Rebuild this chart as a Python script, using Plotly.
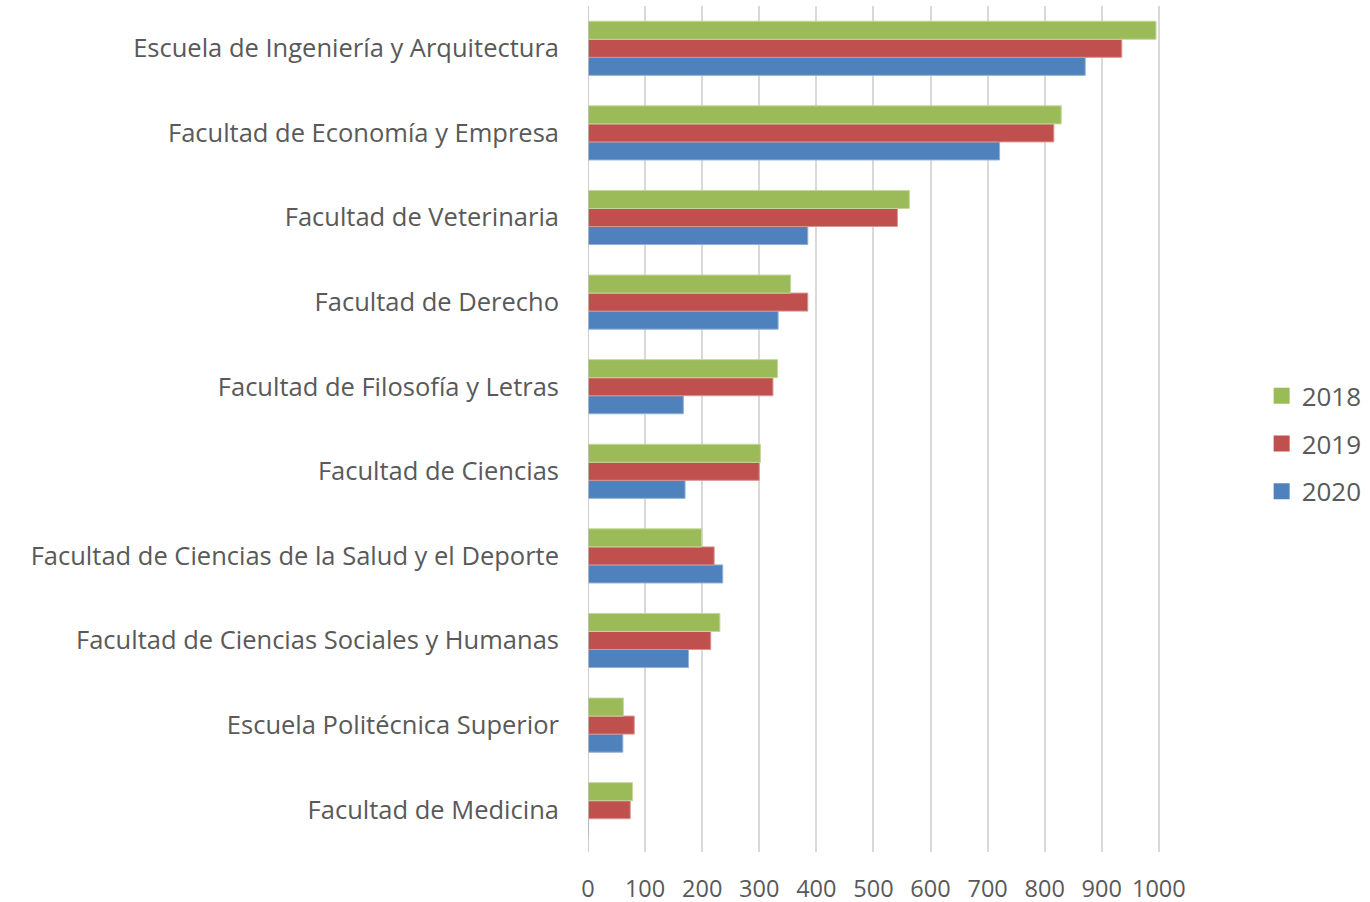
import plotly.graph_objects as go

categories = [
    "Escuela de Ingeniería y Arquitectura",
    "Facultad de Economía y Empresa",
    "Facultad de Veterinaria",
    "Facultad de Derecho",
    "Facultad de Filosofía y Letras",
    "Facultad de Ciencias",
    "Facultad de Ciencias de la Salud y el Deporte",
    "Facultad de Ciencias Sociales y Humanas",
    "Escuela Politécnica Superior",
    "Facultad de Medicina",
]
v2018 = [995, 829, 563, 355, 332, 302, 199, 231, 62, 78]
v2019 = [935, 816, 542, 385, 324, 300, 221, 215, 81, 74]
v2020 = [871, 721, 385, 333, 167, 170, 236, 176, 61, 1]
xticks = [0, 100, 200, 300, 400, 500, 600, 700, 800, 900, 1000]

series = [
    ("2020", v2020, "#4F81BD", "#8FB0D8", 3),
    ("2019", v2019, "#C0504D", "#DA9492", 2),
    ("2018", v2018, "#9BBB59", "#C3D89A", 1),
]

FONT = "Open Sans, sans-serif"
TXT = "#595959"
fig = go.Figure()
for name, vals, col, edge, rank in series:
    fig.add_trace(go.Bar(
        y=categories, x=vals, name=name, orientation="h",
        marker=dict(color=col, line=dict(color=edge, width=1)),
        showlegend=False,
    ))
for name, vals, col, edge, rank in series:
    fig.add_trace(go.Scatter(
        x=[None], y=[None], mode="markers", name=name,
        marker=dict(symbol="square", size=17, color=col),
        legendrank=rank, legendgroup=name, hoverinfo="skip",
    ))

fig.update_layout(
    width=1370, height=902,
    margin=dict(l=588, r=210, t=6, b=50, autoexpand=False),
    paper_bgcolor="white", plot_bgcolor="white",
    barmode="group", bargap=0.36, bargroupgap=0,
    font=dict(family=FONT, size=24, color=TXT),
    legend=dict(
        xref="container", yref="container",
        x=0.9209, xanchor="left", y=0.508, yanchor="middle",
        tracegroupgap=11, itemsizing="trace",
        font=dict(size=26, color=TXT),
        itemwidth=30,
    ),
    xaxis=dict(
        range=[0, 1002], tickvals=xticks, ticktext=[str(t) for t in xticks],
        showgrid=True, gridcolor="#D9D9D9", gridwidth=1.5,
        zeroline=False, showline=False, automargin=False,
        ticklabelstandoff=20,
        tickfont=dict(size=23.5, color=TXT),
    ),
    yaxis=dict(
        categoryorder="array", categoryarray=categories[::-1],
        showgrid=False, zeroline=False, automargin=False,
        ticklabelstandoff=28,
        tickfont=dict(size=25.5, color=TXT),
    ),
    shapes=[dict(type="line", xref="x", yref="paper", x0=0, x1=0, y0=0, y1=1,
                 line=dict(color="#BFBFBF", width=1.5))],
)

fig.write_html("out.html", config={"displayModeBar": False},
               post_script="document.body.style.margin='0';")
